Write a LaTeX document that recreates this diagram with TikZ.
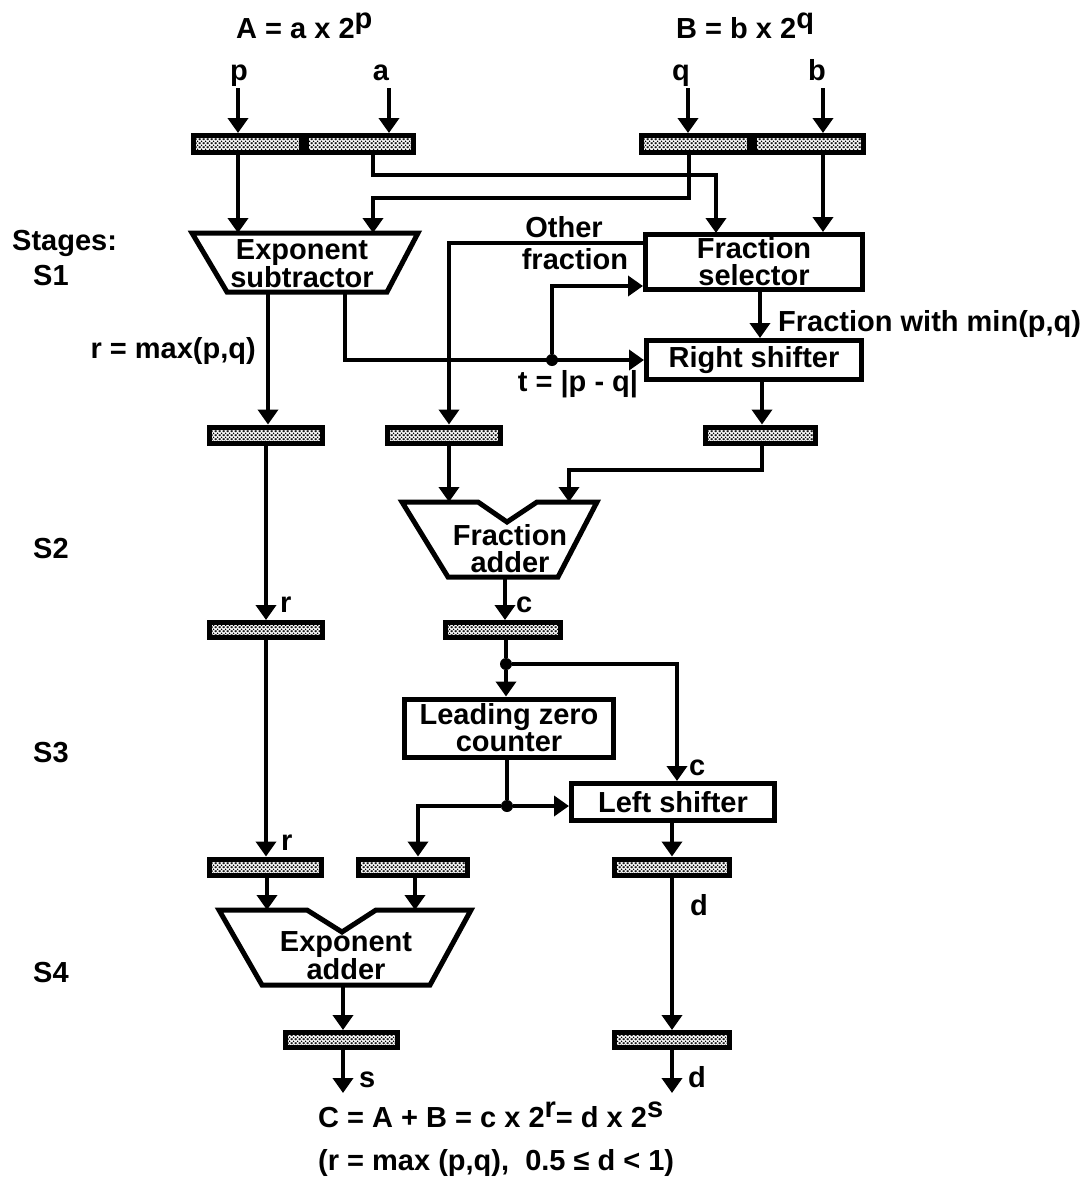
\documentclass[tikz,border=0pt]{standalone}
\usepackage{fontspec}
\setmainfont{Liberation Sans}
\usetikzlibrary{arrows.meta,patterns}
\pgfdeclarepatternformonly{regdots}{\pgfpointorigin}{\pgfpoint{4pt}{4pt}}{\pgfpoint{4pt}{4pt}}{%
  \pgfpathcircle{\pgfpoint{0pt}{0pt}}{1.0pt}%
  \pgfpathcircle{\pgfpoint{2pt}{2pt}}{1.0pt}%
  \pgfpathcircle{\pgfpoint{4pt}{0pt}}{1.0pt}%
  \pgfpathcircle{\pgfpoint{0pt}{4pt}}{1.0pt}%
  \pgfpathcircle{\pgfpoint{4pt}{4pt}}{1.0pt}%
  \pgfusepath{fill}}
\begin{document}
\begin{tikzpicture}[x=1pt,y=-1pt,
  every node/.style={font=\bfseries\fontsize{29}{27}\selectfont, inner sep=0pt},
  wire/.style={line width=4pt},
  arr/.style={line width=4pt,-{Triangle[length=15pt,width=20pt]}},
  box/.style={draw, line width=5pt, align=center},
  unit/.style={draw, line width=5pt, line join=miter},
  reg/.style={draw, line width=5pt, pattern=regdots, pattern color=black, minimum height=17pt},
  lbl/.style={anchor=base west},
  dot/.style={circle, fill=black, minimum size=12pt, inner sep=0pt}
]
\useasboundingbox (0,0) rectangle (1088,1179);

% ---------- top labels ----------
\node[anchor=base west] (tA) at (236,38) {A = a x 2\raisebox{10pt}{p}};
\node[anchor=base west] (tB) at (676,38) {B = b x 2\raisebox{10pt}{q}};
\node[anchor=base] (lp) at (239,80) {p};
\node[anchor=base] (la) at (381,80) {a};
\node[anchor=base] (lq) at (681,80) {q};
\node[anchor=base] (lb) at (817,80) {b};
\coordinate (ip) at (238,88);
\coordinate (ia) at (389,88);
\coordinate (iq) at (688,88);
\coordinate (ib) at (823,88);

% ---------- stage labels ----------
\node[lbl] (stg) at (12,250) {Stages:};
\node[lbl] (s1) at (33,285) {S1};
\node[lbl] (s2) at (33,558) {S2};
\node[lbl] (s3) at (33,762) {S3};
\node[lbl] (s4) at (33,982) {S4};

% ---------- registers ----------
\node[reg, minimum width=108pt] (rA1) at (247.5,144) {};
\node[reg, minimum width=107pt] (rA2) at (360,144) {};
\node[reg, minimum width=108pt] (rB1) at (695.5,144) {};
\node[reg, minimum width=109pt] (rB2) at (809,144) {};
\node[reg, minimum width=113pt, minimum height=16pt] (r2a) at (266,435) {};
\node[reg, minimum width=113pt, minimum height=16pt] (r2b) at (444,435) {};
\node[reg, minimum width=110pt, minimum height=16pt] (r2c) at (760.5,435) {};
\node[reg, minimum width=113pt, minimum height=15pt] (r3a) at (266,630) {};
\node[reg, minimum width=115pt, minimum height=15pt] (r3b) at (503,630) {};
\node[reg, minimum width=112pt, minimum height=16pt] (r4a) at (265,867) {};
\node[reg, minimum width=109pt, minimum height=16pt] (r4b) at (413,867) {};
\node[reg, minimum width=115pt, minimum height=16pt] (r4c) at (672,867) {};
\node[reg, minimum width=112pt, minimum height=15pt] (r5a) at (341,1040) {};
\node[reg, minimum width=115pt, minimum height=15pt] (r5c) at (672,1040) {};

% ---------- functional units ----------
\draw[unit] (192,233) -- (418,233) -- (387,292) -- (227,292) -- cycle;
\node[align=center] (es) at (302,264) {Exponent\\subtractor};
\node[box, minimum width=217pt, minimum height=55pt] (fs) at (754,262) {Fraction\\selector};
\node[box, minimum width=215pt, minimum height=39pt] (rs) at (754,360) {Right shifter};
\draw[unit] (402,502) -- (478,502) -- (507,522) -- (537,502) -- (597,502) -- (558,577) -- (448,577) -- cycle;
\node[align=center] (fa) at (510,549) {Fraction\\adder};
\node[box, minimum width=209pt, minimum height=58pt] (lzc) at (509,728) {Leading zero\\counter};
\node[box, minimum width=203pt, minimum height=37pt] (ls) at (673,802) {Left shifter};
\draw[unit] (219,910) -- (307,910) -- (342,932) -- (376,910) -- (471,910) -- (430,985) -- (262,985) -- cycle;
\node[align=center] (ea) at (346,956) {Exponent\\adder};

% ---------- connector labels ----------
\node[anchor=base east] (lr0) at (256,358) {r = max(p,q)};
\node[anchor=base] (lt) at (578,391) {t = |p - q|};
\node[lbl] (lmin) at (778,331) {Fraction with min(p,q)};
\node[anchor=base] (lo1) at (564,237) {Other};
\node[anchor=base] (lo2) at (575,269) {fraction};
\node[lbl] (lc1) at (516,612) {c};
\node[lbl] (lr1) at (280,612) {r};
\node[lbl] (lr2) at (281,850) {r};
\node[lbl] (lc2) at (689,775) {c};
\node[lbl] (ld1) at (690,915) {d};
\node[lbl] (ls1) at (359,1087) {s};
\node[lbl] (ld2) at (688,1087) {d};

% ---------- coordinates ----------
\coordinate (esp) at (238,233);
\coordinate (esq) at (373,233);
\coordinate (esb1) at (268,292);
\coordinate (esb2) at (345,292);
\coordinate (fa1) at (449,502);
\coordinate (fa2) at (569,502);
\coordinate (fab) at (505,577);
\coordinate (ea1) at (267,910);
\coordinate (ea2) at (415,910);
\coordinate (eab) at (343,985);
\coordinate (os) at (343,1093);
\coordinate (od) at (672,1093);

% ---------- connectors ----------
\draw[arr] (ip) -- (ip |- rA1.north);
\draw[arr] (ia) -- (ia |- rA2.north);
\draw[arr] (iq) -- (iq |- rB1.north);
\draw[arr] (ib) -- (ib |- rB2.north);

\draw[arr] (ip |- rA1.south) -- (esp);
\draw[arr] (373,155) -- (373,175) -- (716,175) -- (716,233);
\draw[arr] (689,155) -- (689,198) -- (373,198) -- (esq);
\draw[arr] (ib |- rB2.south) -- (ib |- fs.north);

\draw[arr] (esb2) -- (345,360) -- (rs.west |- 0,360);
\node[dot] (j1) at (552,360) {};
\draw[arr] (j1) -- (552,286) -- (fs.west |- 0,286);
\draw[arr] (esb1) -- (esb1 |- r2a.north);
\draw[arr] (fs.west |- 0,243) -- (449,243) -- (449,0 |- r2b.north);
\draw[arr] (760,0 |- fs.south) -- (760,0 |- rs.north);
\draw[arr] (762,0 |- rs.south) -- (762,0 |- r2c.north);

\draw[arr] (449,0 |- r2b.south) -- (fa1);
\draw[arr] (762,0 |- r2c.south) -- (762,470) -- (569,470) -- (fa2);
\draw[arr] (fab) -- (fab |- r3b.north);
\draw[arr] (266,0 |- r2a.south) -- (266,0 |- r3a.north);
\draw[arr] (266,0 |- r3a.south) -- (266,0 |- r4a.north);

\node[dot] (j2) at (506,664) {};
\draw[wire] (506,0 |- r3b.south) -- (j2);
\draw[arr] (j2) -- (506,0 |- lzc.north);
\draw[arr] (j2) -- (677,664) -- (677,0 |- ls.north);
\node[dot] (j3) at (507,806) {};
\draw[wire] (507,0 |- lzc.south) -- (j3);
\draw[arr] (j3) -- (ls.west |- 0,806);
\draw[arr] (j3) -- (418,806) -- (418,0 |- r4b.north);
\draw[arr] (672,0 |- ls.south) -- (672,0 |- r4c.north);

\draw[arr] (267,0 |- r4a.south) -- (ea1);
\draw[arr] (415,0 |- r4b.south) -- (ea2);
\draw[arr] (eab) -- (eab |- r5a.north);
\draw[arr] (672,0 |- r4c.south) -- (672,0 |- r5c.north);
\draw[arr] (343,0 |- r5a.south) -- (os);
\draw[arr] (672,0 |- r5c.south) -- (od);

% ---------- bottom formula ----------
\node[anchor=base west] (f1) at (318,1127) {C = A + B = c x 2\raisebox{10pt}{r}= d x 2\raisebox{10pt}{s}};
\node[anchor=base west] (f2) at (318,1170) {(r = max (p,q), \ 0.5 ≤ d < 1)};
\end{tikzpicture}
\end{document}
